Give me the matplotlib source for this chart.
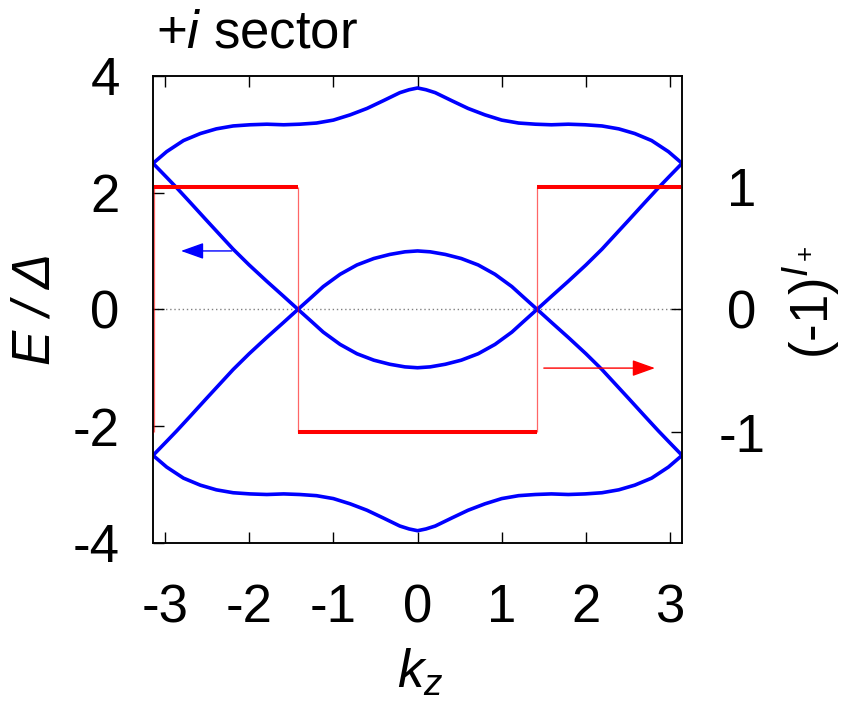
import matplotlib
matplotlib.use("Agg")
import matplotlib.pyplot as plt

plt.rcParams["font.family"] = ["Liberation Sans", "DejaVu Sans"]
plt.rcParams["mathtext.fontset"] = "custom"
plt.rcParams["mathtext.rm"] = "Liberation Sans"
plt.rcParams["mathtext.it"] = "Liberation Sans:italic"
plt.rcParams["axes.unicode_minus"] = False

# outer bands, E / Delta
kz_outer = [-3.1416, -2.98, -2.78, -2.58, -2.39, -2.19, -1.99, -1.79, -1.59,
            -1.40, -1.20, -1.00, -0.80, -0.60, -0.41, -0.21, -0.10, 0.0,
            0.10, 0.21, 0.41, 0.60, 0.80, 1.00, 1.20, 1.40, 1.59, 1.79,
            1.99, 2.19, 2.39, 2.58, 2.78, 2.98, 3.1416]
E_outer_up = [2.50, 2.70, 2.89, 3.01, 3.09, 3.14, 3.16, 3.17, 3.16,
              3.17, 3.19, 3.24, 3.33, 3.44, 3.57, 3.71, 3.76, 3.79,
              3.76, 3.71, 3.57, 3.44, 3.33, 3.24, 3.19, 3.17, 3.16, 3.17,
              3.16, 3.14, 3.09, 3.01, 2.89, 2.70, 2.50]
E_outer_dn = [-2.50, -2.70, -2.89, -3.01, -3.09, -3.14, -3.16, -3.17, -3.16,
              -3.17, -3.19, -3.24, -3.33, -3.44, -3.57, -3.71, -3.76, -3.79,
              -3.76, -3.71, -3.57, -3.44, -3.33, -3.24, -3.19, -3.17, -3.16, -3.17,
              -3.16, -3.14, -3.09, -3.01, -2.89, -2.70, -2.50]

# inner bands crossing zero at the nodes
kz_inner = [-3.1416, -2.98, -2.86, -2.70, -2.51, -2.35, -2.19, -2.00, -1.79,
            -1.60, -1.42, -1.25, -1.12, -0.92, -0.72, -0.52, -0.33, -0.15, 0.0,
            0.15, 0.33, 0.52, 0.72, 0.92, 1.12, 1.25, 1.42, 1.60, 1.79,
            2.00, 2.19, 2.35, 2.51, 2.70, 2.86, 2.98, 3.1416]
E_inner_a = [2.50, 2.26, 2.08, 1.83, 1.53, 1.28, 1.03, 0.76, 0.48,
             0.235, 0.00, -0.22, -0.39, -0.60, -0.76, -0.87, -0.94, -0.985, -1.00,
             -0.985, -0.94, -0.87, -0.76, -0.60, -0.39, -0.22, 0.00, 0.235, 0.48,
             0.76, 1.03, 1.28, 1.53, 1.83, 2.08, 2.26, 2.50]
E_inner_b = [-2.50, -2.26, -2.08, -1.83, -1.53, -1.28, -1.03, -0.76, -0.48,
             -0.235, 0.00, 0.22, 0.39, 0.60, 0.76, 0.87, 0.94, 0.985, 1.00,
             0.985, 0.94, 0.87, 0.76, 0.60, 0.39, 0.22, 0.00, -0.235, -0.48,
             -0.76, -1.03, -1.28, -1.53, -1.83, -2.08, -2.26, -2.50]

# parity (-1)^{I+}: piecewise constant between edges
kz_edges = [-3.1416, -3.13, -1.42, 1.42, 3.1416]
parity = [-1, 1, -1, 1]

x_ticks = [-3, -2, -1, 0, 1, 2, 3]
E_ticks = [-4, -2, 0, 2, 4]
parity_ticks = [-1, 0, 1]
E_max = 4.0
parity_scale = 2.1

FS = 38

fig = plt.figure(figsize=(8.46, 7.07), dpi=100)
ax = fig.add_axes([0.1809, 0.2320, 0.6253, 0.6609])
ax2 = ax.twinx()

ax.axhline(0, color="#808080", lw=1.0, ls=(0, (1, 2)), zorder=1)
for E in (E_outer_up, E_outer_dn):
    ax.plot(kz_outer, E, color="#0000ff", lw=2.6, solid_joinstyle="round")
for E in (E_inner_a, E_inner_b):
    ax.plot(kz_inner, E, color="#0000ff", lw=2.6, solid_joinstyle="round")

ax.set_xlim(kz_outer[0], kz_outer[-1])
ax.set_ylim(-E_max, E_max)
ax2.set_ylim(-E_max / parity_scale, E_max / parity_scale)

# parity steps: thick plateaus, thin jumps
ax2.hlines(parity, kz_edges[:-1], kz_edges[1:], color="#ff0000", lw=2.9)
for i in range(1, len(parity)):
    ax2.vlines(kz_edges[i], min(parity[i - 1], parity[i]), max(parity[i - 1], parity[i]),
               color="#ff0000", lw=0.9, alpha=0.6)

# arrows pointing at the relevant axis
ax.annotate("", xy=(-2.81, 1.0), xytext=(-2.207, 1.0),
            arrowprops=dict(arrowstyle="-|>,head_length=1.4,head_width=0.5",
                            mutation_scale=10, color="#0000ff", lw=1.0,
                            shrinkA=0, shrinkB=0))
ax2.annotate("", xy=(2.82, -0.479), xytext=(1.50, -0.479),
             arrowprops=dict(arrowstyle="-|>,head_length=1.4,head_width=0.5",
                             mutation_scale=10, color="#ff0000", lw=1.0,
                             shrinkA=0, shrinkB=0))

ax.set_xticks(x_ticks)
ax.set_yticks(E_ticks)
ax2.set_yticks(parity_ticks)
ax.tick_params(axis="x", direction="in", length=8, width=1, top=True,
               labelsize=FS, pad=29)
ax.tick_params(axis="y", direction="in", length=8, width=1, right=False,
               labelsize=FS, pad=24)
ax2.tick_params(axis="y", direction="in", length=8, width=1,
                labelsize=FS, pad=43)
for lbl in ax2.get_yticklabels():
    lbl.set_horizontalalignment("center")
for a in (ax, ax2):
    for s in a.spines.values():
        s.set_linewidth(1.1)

fig.text(156 / 846, 1 - 48 / 707, r"$+i$ sector", fontsize=FS, ha="left", va="baseline")
fig.text(36 / 846, 1 - 309 / 707, "E / Δ", fontsize=FS, fontstyle="italic",
         rotation=90, ha="center", va="center")
fig.text(812 / 846, 1 - 303 / 707, r"(-1)$^{I_+}$", fontsize=FS,
         rotation=90, ha="center", va="center")
fig.text(420 / 846, 1 - 688 / 707, r"$k_z$", fontsize=FS, ha="center", va="baseline")

fig.savefig("out.png", dpi=100)
